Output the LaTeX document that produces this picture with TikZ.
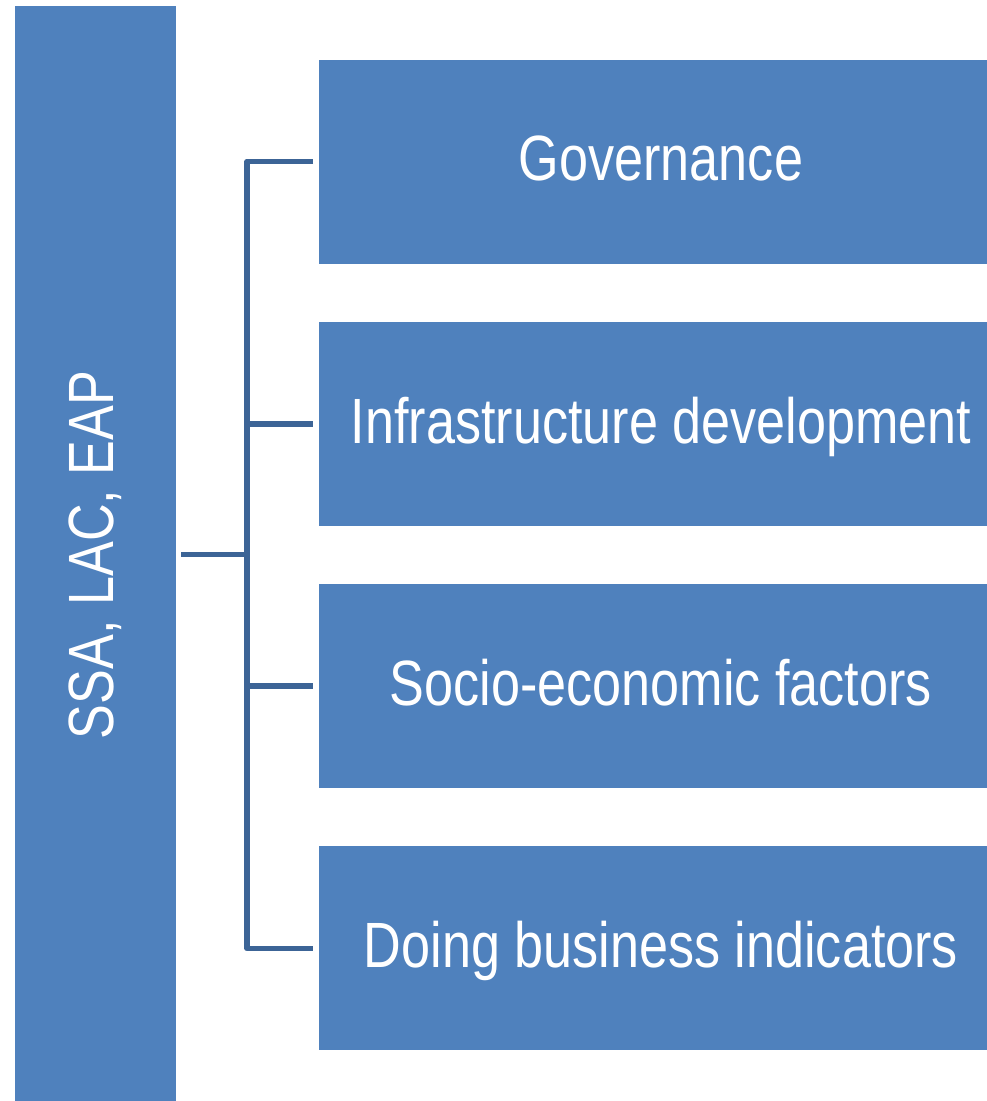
\documentclass[tikz,border=0pt]{standalone}
\usepackage{fontspec}
\setmainfont{Liberation Sans}
\definecolor{boxblue}{HTML}{4F81BD}
\definecolor{linkblue}{HTML}{3C6496}
\newcommand{\narrow}[1]{\scalebox{0.815}[1]{#1}}
\begin{document}
\begin{tikzpicture}[x=1pt,y=-1pt,
  boxfill/.style={fill=boxblue,draw=none},
  label/.style={text=white,inner sep=0pt,anchor=base,font=\fontsize{64}{76}\selectfont},
  link/.style={draw=linkblue,line width=5.5pt,line join=round}]
\useasboundingbox (0,0) rectangle (987,1101);
\begin{scope}
\clip (0,0) rectangle (987,1101);
% left region bar
\fill[boxfill] (15,6) rectangle (176,1110);
% right category boxes
\fill[boxfill] (319,60) rectangle (1010,264);
\fill[boxfill] (319,322) rectangle (1010,526);
\fill[boxfill] (319,584) rectangle (1010,788);
\fill[boxfill] (319,846) rectangle (1010,1050);
\end{scope}
% labels
\node[label,rotate=90] (reg) at (113,555) {\narrow{SSA, LAC, EAP}};
\node[label] (gov) at (661,180) {\narrow{Governance}};
\node[label] (inf) at (661,443) {\narrow{Infrastructure development}};
\node[label] (soc) at (661,705) {\narrow{Socio-economic factors}};
\node[label] (dob) at (661,967) {\narrow{Doing business indicators}};
% connector anchors
\coordinate (src) at (181,554.5);
\coordinate (hub) at (247,554.5);
\coordinate (t1) at (313,161.5);
\coordinate (t2) at (313,424);
\coordinate (t3) at (313,686);
\coordinate (t4) at (313,948.5);
% tree connectors
\draw[link] (src) -- (hub);
\draw[link] (t1) -| (hub) |- (t4);
\draw[link] (hub |- t2) -- (t2);
\draw[link] (hub |- t3) -- (t3);
\end{tikzpicture}
\end{document}
